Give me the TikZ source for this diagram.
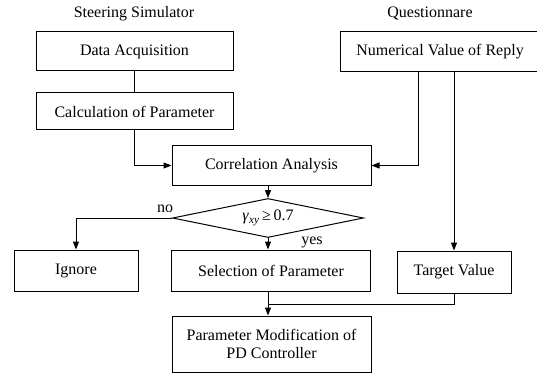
\documentclass[tikz,border=0pt]{standalone}
\usepackage{fontspec}
\setmainfont{Liberation Serif}
\usetikzlibrary{shapes.geometric,arrows.meta,positioning,calc}

\begin{document}
\begin{tikzpicture}[x=1pt, y=-1pt, line width=1pt, font=\fontsize{16}{17.5}\selectfont]
    % Styles
    \tikzstyle{block} = [draw, rectangle, inner sep=2pt, align=center]
    \tikzstyle{decision} = [draw, diamond, aspect=4.9, inner sep=0pt, minimum width=191pt, minimum height=39pt]
    \tikzstyle{arrow} = [-{Triangle[length=8pt, width=6pt]}]
    \tikzstyle{title} = [align=center]

    \useasboundingbox (0,0) rectangle (537,374);

    % Titles
    \node [title] (Sim) at (134,14) {Steering Simulator};
    \node [title] (Quest) at (430,14) {Questionnare};

    % Nodes
    \node [block, minimum width=197pt, minimum height=39pt] (DA) at (134.5,51.5) {Data Acquisition};
    \node [block, minimum width=197pt, minimum height=37pt] (Calc) at (134.5,111.5) {Calculation of Parameter};
    \node [block, minimum width=200pt, minimum height=40pt] (NumVal) at (440,52) {Numerical Value of Reply};
    \node [block, minimum width=199pt, minimum height=39pt] (Corr) at (271.5,165.5) {Correlation Analysis};
    \node [decision] (Dia) at (268,218) {\textit{γ}\textsubscript{\textit{xy}}\,≥\,0.7};
    \node [block, minimum width=124pt, minimum height=41pt] (Ignore) at (76,270.5) {Ignore};
    \node [block, minimum width=199pt, minimum height=41pt] (Sel) at (271,270.5) {Selection of Parameter};
    \node [block, minimum width=114pt, minimum height=42pt] (Target) at (454,272) {Target Value};
    \node [block, minimum width=199pt, minimum height=56pt] (PD) at (271.5,344) {Parameter Modification of\\PD Controller};

    % Labels
    \node (No) at (165,209) {no};
    \node (Yes) at (312,242) {yes};

    % Connections
    \draw (DA) -- (Calc);
    \draw [arrow] (Calc.south) |- (Corr.west);
    \draw [arrow] ([xshift=-22pt]NumVal.south) |- (Corr.east);
    \draw [arrow] (NumVal.south -| Target.north) -- (Target.north);
    \draw [arrow] (Corr.south -| Dia.north) -- (Dia.north);
    \draw [arrow] (Dia.west) -| (Ignore.north);
    \draw [arrow] (Dia.south) -- (Sel.north -| Dia.south);
    \draw [arrow] (Sel.south -| Dia.south) -- (PD.north -| Dia.south);
    \coordinate (Join) at ($(Sel.south)!0.55!(PD.north)$);
    \draw (Target.south) |- (Join -| Dia.south);
\end{tikzpicture}
\end{document}
